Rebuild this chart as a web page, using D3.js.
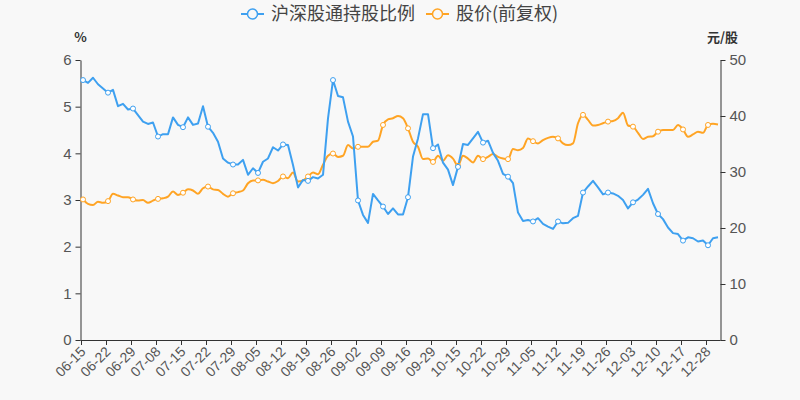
<!DOCTYPE html>
<html>
<head>
<meta charset="utf-8">
<script src="https://cdn.jsdelivr.net/npm/d3@7/dist/d3.min.js"></script>
<style>
  body { margin: 0; background: #f8f8f8; }
  svg { display: block; }
</style>
</head>
<body>
<div id="chart"></div>
<script>
// trading days
const dates = [
  "06-15","06-16","06-17","06-18","06-21","06-22","06-23","06-24","06-25","06-28",
  "06-29","06-30","07-02","07-05","07-07","07-08","07-09","07-12","07-13","07-14",
  "07-15","07-16","07-19","07-20","07-21","07-22","07-23","07-26","07-27","07-28",
  "07-29","07-30","08-02","08-03","08-04","08-05","08-06","08-09","08-10","08-11",
  "08-12","08-13","08-16","08-17","08-18","08-19","08-20","08-23","08-24","08-25",
  "08-26","08-27","08-30","08-31","09-01","09-02","09-03","09-06","09-07","09-08",
  "09-09","09-10","09-13","09-14","09-15","09-16","09-17","09-23","09-24","09-27",
  "09-29","09-30","10-08","10-11","10-12","10-15","10-18","10-19","10-20","10-21",
  "10-22","10-25","10-26","10-27","10-28","10-29","11-01","11-02","11-03","11-04",
  "11-05","11-08","11-09","11-10","11-11","11-12","11-15","11-16","11-17","11-18",
  "11-19","11-22","11-23","11-24","11-25","11-26","11-29","11-30","12-01","12-02",
  "12-03","12-06","12-07","12-08","12-09","12-10","12-13","12-14","12-15","12-16",
  "12-17","12-20","12-21","12-22","12-23","12-28","12-29","12-30"
];

// 沪深股通持股比例 (%)
const holdPct = [
  5.57,5.51,5.62,5.48,5.39,5.30,5.36,5.01,5.06,4.94,
  4.96,4.82,4.68,4.63,4.66,4.36,4.41,4.41,4.77,4.61,
  4.56,4.77,4.61,4.64,5.01,4.57,4.44,4.25,3.89,3.80,
  3.76,3.76,3.86,3.54,3.68,3.58,3.82,3.89,4.13,4.06,
  4.19,4.18,3.75,3.27,3.43,3.41,3.49,3.46,3.54,4.75,
  5.57,5.23,5.20,4.68,4.36,2.99,2.68,2.51,3.13,2.99,
  2.86,2.70,2.82,2.69,2.69,3.06,3.93,4.32,4.84,4.84,
  4.11,4.19,3.80,3.65,3.32,3.71,4.20,4.18,4.32,4.46,
  4.23,4.27,4.01,3.84,3.56,3.50,3.36,2.73,2.55,2.57,
  2.54,2.61,2.49,2.43,2.38,2.54,2.50,2.51,2.61,2.66,
  3.16,3.29,3.41,3.27,3.12,3.16,3.14,3.09,3.00,2.82,
  2.95,3.01,3.11,3.24,2.93,2.70,2.59,2.41,2.29,2.27,
  2.13,2.20,2.18,2.11,2.13,2.03,2.18,2.20
];

// 股价(前复权) (元/股)
const price = [
  25.1,24.3,24.1,24.7,24.5,24.8,26.1,25.8,25.5,25.5,
  25.1,24.9,25.0,24.5,24.9,25.2,25.3,25.6,26.5,25.9,
  26.3,26.9,26.7,26.1,27.1,27.4,26.9,26.8,26.1,25.6,
  26.2,26.4,26.7,28.0,28.5,28.5,28.6,28.3,28.0,28.4,
  29.2,28.9,29.9,28.3,28.5,29.2,29.9,29.6,31.3,32.9,
  33.3,32.7,32.9,34.8,34.2,34.5,34.5,34.5,35.4,35.6,
  38.4,39.4,39.6,40.0,39.6,37.8,35.4,34.5,32.3,32.4,
  31.8,32.9,32.0,33.0,32.4,31.1,32.9,32.4,31.7,32.9,
  32.3,32.7,33.2,32.7,32.4,32.3,34.1,33.9,34.3,36.0,
  35.5,35.1,35.7,36.1,36.3,36.0,35.1,34.8,35.1,38.7,
  40.2,39.3,38.3,38.4,38.7,39.0,39.1,39.6,40.6,38.3,
  38.1,37.0,35.9,36.3,36.4,37.2,37.5,37.5,37.5,38.4,
  37.6,36.3,36.7,37.2,37.0,38.4,38.6,38.5
];

const leftTicks = [0, 1, 2, 3, 4, 5, 6];
const rightTicks = [0, 10, 20, 30, 40, 50];
const seriesNames = ["沪深股通持股比例", "股价(前复权)"];
const labelEvery = 5;

const width = 800, height = 400;
const plotLeft = 80.5, plotRight = 720.5, plotTop = 60, plotBottom = 340;
const blue = "#3ea0f0", orange = "#ffa424";
const axisColor = "#333", textColor = "#555";
const font = "'Noto Sans CJK SC', 'Noto Sans', sans-serif";
const numFont = "'Liberation Sans', Arial, sans-serif";

const svg = d3.select("#chart").append("svg")
  .attr("width", width)
  .attr("height", height)
  .style("font-family", font);

svg.append("rect").attr("width", width).attr("height", height).attr("fill", "#f8f8f8");

const x = d3.scaleBand()
  .domain(d3.range(dates.length))
  .range([plotLeft, plotRight]);
const cx = i => x(i) + x.bandwidth() / 2;

const yL = d3.scaleLinear().domain([0, 6]).range([plotBottom, plotTop]);
const yR = d3.scaleLinear().domain([0, 50]).range([plotBottom, plotTop]);

// left axis
const gL = svg.append("g")
  .attr("transform", `translate(${plotLeft},0)`)
  .call(d3.axisLeft(yL).tickValues(leftTicks).tickFormat(d3.format("d"))
    .tickSize(5).tickSizeOuter(0).tickPadding(4));
gL.select(".domain").attr("stroke", axisColor);
gL.selectAll(".tick line").attr("stroke", axisColor);
gL.selectAll(".tick text").attr("fill", textColor).style("font-size", "15px").style("font-family", numFont);

// right axis
const gR = svg.append("g")
  .attr("transform", `translate(${plotRight},0)`)
  .call(d3.axisRight(yR).tickValues(rightTicks).tickFormat(d3.format("d"))
    .tickSize(5).tickSizeOuter(0).tickPadding(4));
gR.select(".domain").attr("stroke", axisColor);
gR.selectAll(".tick line").attr("stroke", axisColor);
gR.selectAll(".tick text").attr("fill", textColor).style("font-size", "15px").style("font-family", numFont);

// x axis line
svg.append("line")
  .attr("x1", plotLeft).attr("x2", plotRight)
  .attr("y1", plotBottom + 0.5).attr("y2", plotBottom + 0.5)
  .attr("stroke", axisColor);

const labelIdx = d3.range(dates.length).filter(i => i % labelEvery === 0);

svg.append("g").selectAll("line")
  .data(labelIdx)
  .join("line")
  .attr("x1", i => Math.round(x(i)) + 0.5)
  .attr("x2", i => Math.round(x(i)) + 0.5)
  .attr("y1", plotBottom)
  .attr("y2", plotBottom + 5)
  .attr("stroke", axisColor);

svg.append("g").selectAll("text")
  .data(labelIdx)
  .join("text")
  .attr("transform", i => `translate(${cx(i)},${plotBottom + 9}) rotate(-45)`)
  .attr("text-anchor", "end")
  .attr("dy", "0.35em")
  .attr("fill", textColor)
  .style("font-size", "14px")
  .style("font-family", numFont)
  .text(i => dates[i]);

// axis names
svg.append("text")
  .attr("x", plotLeft).attr("y", 42)
  .attr("text-anchor", "middle")
  .attr("fill", "#333")
  .style("font-size", "13px")
  .style("font-weight", "bold")
  .text("%");

svg.append("text")
  .attr("x", plotRight + 2).attr("y", 42)
  .attr("text-anchor", "middle")
  .attr("fill", "#333")
  .style("font-size", "13px")
  .style("font-weight", "bold")
  .text("元/股");

// lines
const lineL = d3.line().x((d, i) => cx(i)).y(d => yL(d));
const lineR = d3.line().x((d, i) => cx(i)).y(d => yR(d)).curve(d3.curveMonotoneX);

svg.append("path")
  .datum(price)
  .attr("d", lineR)
  .attr("fill", "none")
  .attr("stroke", orange)
  .attr("stroke-width", 2)
  .attr("stroke-linejoin", "round");

svg.append("path")
  .datum(holdPct)
  .attr("d", lineL)
  .attr("fill", "none")
  .attr("stroke", blue)
  .attr("stroke-width", 2)
  .attr("stroke-linejoin", "round");

// markers every 5th point
svg.append("g").selectAll("circle")
  .data(labelIdx)
  .join("circle")
  .attr("cx", i => cx(i))
  .attr("cy", i => yR(price[i]))
  .attr("r", 2.5)
  .attr("fill", "#fff")
  .attr("stroke", orange)
  .attr("stroke-width", 1);

svg.append("g").selectAll("circle")
  .data(labelIdx)
  .join("circle")
  .attr("cx", i => cx(i))
  .attr("cy", i => yL(holdPct[i]))
  .attr("r", 2.5)
  .attr("fill", "#fff")
  .attr("stroke", blue)
  .attr("stroke-width", 1);

// legend
const legend = svg.append("g").attr("transform", "translate(0,14)");
const legendItems = [
  { name: seriesNames[0], color: blue, x0: 241 },
  { name: seriesNames[1], color: orange, x0: 426 }
];
legendItems.forEach(d => {
  const g = legend.append("g").attr("transform", `translate(${d.x0},0)`);
  g.append("line").attr("x1", 0).attr("x2", 23).attr("y1", 0).attr("y2", 0)
    .attr("stroke", d.color).attr("stroke-width", 2);
  g.append("circle").attr("cx", 11.5).attr("cy", 0).attr("r", 5)
    .attr("fill", "#f8f8f8").attr("stroke", d.color).attr("stroke-width", 1.5);
  g.append("text").attr("x", 30).attr("y", 0).attr("dy", "0.35em")
    .attr("fill", "#444")
    .style("font-size", "18px")
    .text(d.name);
});
</script>
</body>
</html>
